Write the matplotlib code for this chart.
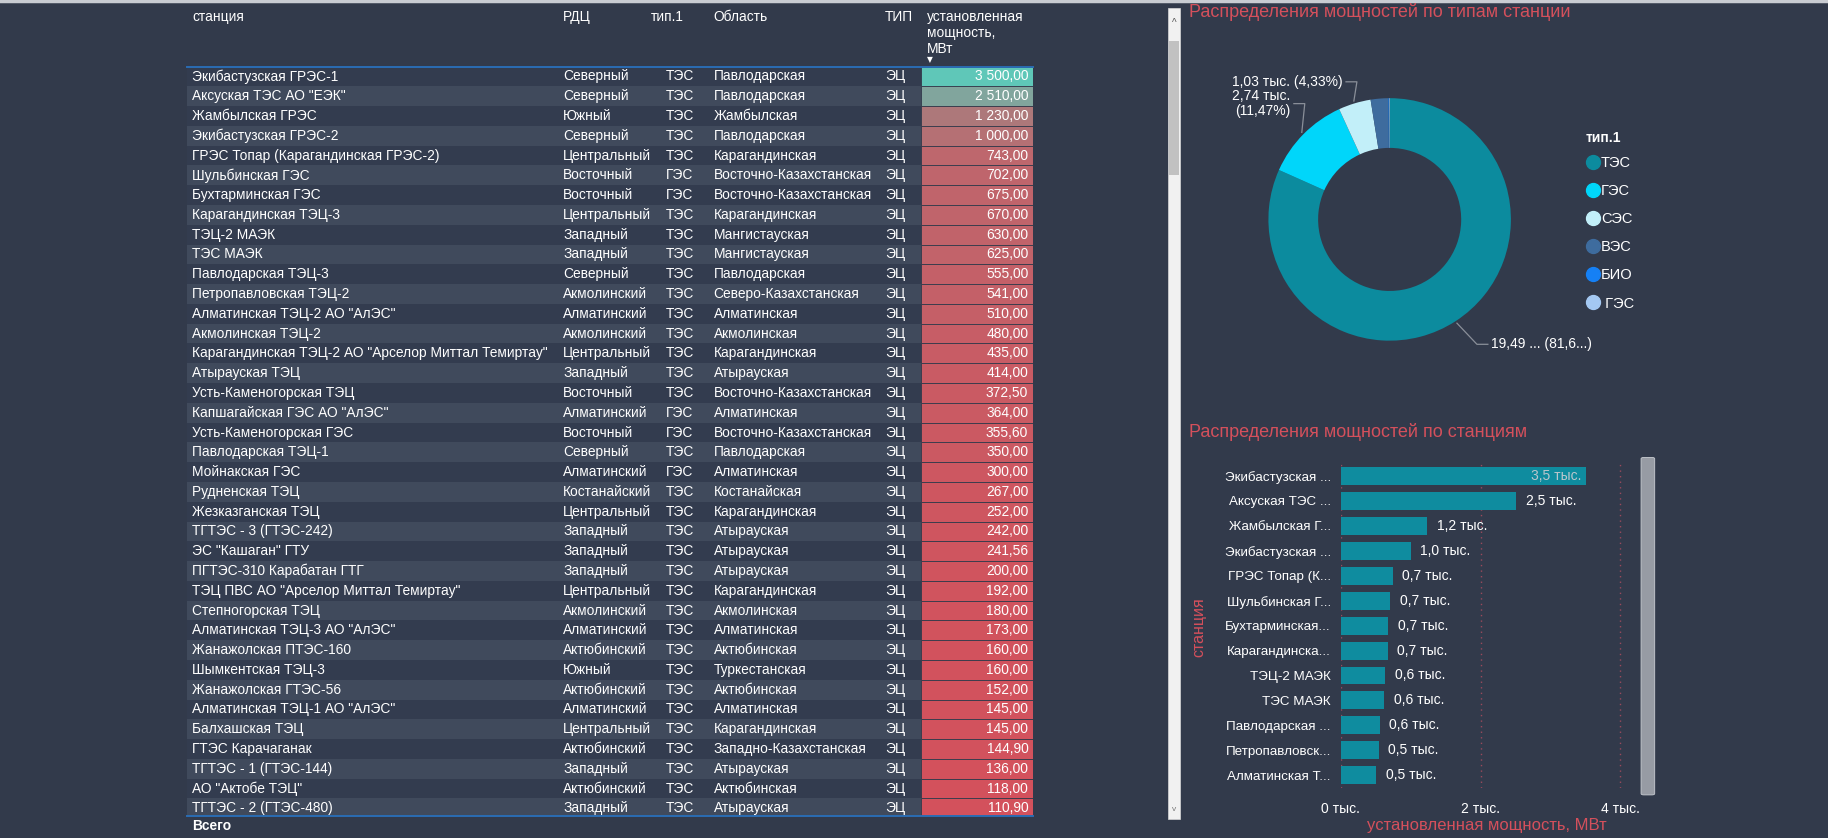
import matplotlib
matplotlib.use("Agg")
import matplotlib.pyplot as plt
from matplotlib import font_manager
from matplotlib.colors import LinearSegmentedColormap, Normalize
from matplotlib.patches import Rectangle, FancyBboxPatch
from matplotlib.lines import Line2D
import numpy as np

# ---- table data ----
stations = [
    "Экибастузская ГРЭС-1", 'Аксуская ТЭС АО "ЕЭК"', "Жамбылская ГРЭС", "Экибастузская ГРЭС-2",
    "ГРЭС Топар (Карагандинская ГРЭС-2)", "Шульбинская ГЭС", "Бухтарминская ГЭС",
    "Карагандинская ТЭЦ-3", "ТЭЦ-2 МАЭК", "ТЭС МАЭК", "Павлодарская ТЭЦ-3",
    "Петропавловская ТЭЦ-2", 'Алматинская ТЭЦ-2 АО "АлЭС"', "Акмолинская ТЭЦ-2",
    'Карагандинская ТЭЦ-2 АО "Арселор Миттал Темиртау"', "Атырауская ТЭЦ",
    "Усть-Каменогорская ТЭЦ", 'Капшагайская ГЭС АО "АлЭС"', "Усть-Каменогорская ГЭС",
    "Павлодарская ТЭЦ-1", "Мойнакская ГЭС", "Рудненская ТЭЦ", "Жезказганская ТЭЦ",
    "ТГТЭС - 3 (ГТЭС-242)", 'ЭС "Кашаган" ГТУ', "ПГТЭС-310 Карабатан ГТГ",
    'ТЭЦ ПВС АО "Арселор Миттал Темиртау"', "Степногорская ТЭЦ",
    'Алматинская ТЭЦ-3 АО "АлЭС"', "Жанажолская ПТЭС-160", "Шымкентская ТЭЦ-3",
    "Жанажолская ГТЭС-56", 'Алматинская ТЭЦ-1 АО "АлЭС"', "Балхашская ТЭЦ",
    "ГТЭС Карачаганак", "ТГТЭС - 1 (ГТЭС-144)", 'АО "Актобе ТЭЦ"', "ТГТЭС - 2 (ГТЭС-480)",
]
rdc = [
    "Северный", "Северный", "Южный", "Северный", "Центральный", "Восточный", "Восточный",
    "Центральный", "Западный", "Западный", "Северный", "Акмолинский", "Алматинский",
    "Акмолинский", "Центральный", "Западный", "Восточный", "Алматинский", "Восточный",
    "Северный", "Алматинский", "Костанайский", "Центральный", "Западный", "Западный",
    "Западный", "Центральный", "Акмолинский", "Алматинский", "Актюбинский", "Южный",
    "Актюбинский", "Алматинский", "Центральный", "Актюбинский", "Западный",
    "Актюбинский", "Западный",
]
plant_type = [
    "ТЭС", "ТЭС", "ТЭС", "ТЭС", "ТЭС", "ГЭС", "ГЭС", "ТЭС", "ТЭС", "ТЭС", "ТЭС", "ТЭС",
    "ТЭС", "ТЭС", "ТЭС", "ТЭС", "ТЭС", "ГЭС", "ГЭС", "ТЭС", "ГЭС", "ТЭС", "ТЭС", "ТЭС",
    "ТЭС", "ТЭС", "ТЭС", "ТЭС", "ТЭС", "ТЭС", "ТЭС", "ТЭС", "ТЭС", "ТЭС", "ТЭС", "ТЭС",
    "ТЭС", "ТЭС",
]
oblast = [
    "Павлодарская", "Павлодарская", "Жамбылская", "Павлодарская", "Карагандинская",
    "Восточно-Казахстанская", "Восточно-Казахстанская", "Карагандинская", "Мангистауская",
    "Мангистауская", "Павлодарская", "Северо-Казахстанская", "Алматинская", "Акмолинская",
    "Карагандинская", "Атырауская", "Восточно-Казахстанская", "Алматинская",
    "Восточно-Казахстанская", "Павлодарская", "Алматинская", "Костанайская",
    "Карагандинская", "Атырауская", "Атырауская", "Атырауская", "Карагандинская",
    "Акмолинская", "Алматинская", "Актюбинская", "Туркестанская", "Актюбинская",
    "Алматинская", "Карагандинская", "Западно-Казахстанская", "Атырауская",
    "Актюбинская", "Атырауская",
]
zone = ["ЭЦ"] * len(stations)
capacity = [
    3500.00, 2510.00, 1230.00, 1000.00, 743.00, 702.00, 675.00, 670.00, 630.00, 625.00,
    555.00, 541.00, 510.00, 480.00, 435.00, 414.00, 372.50, 364.00, 355.60, 350.00,
    300.00, 267.00, 252.00, 242.00, 241.56, 200.00, 192.00, 180.00, 173.00, 160.00,
    160.00, 152.00, 145.00, 145.00, 144.90, 136.00, 118.00, 110.90,
]
headers = ["станция", "РДЦ", "тип.1", "Область", "ТИП", "установленная\nмощность,\nМВт"]

# ---- donut data ----
type_names = ["ТЭС", "ГЭС", "СЭС", "ВЭС", "БИО", " ГЭС"]
type_totals = [19490, 2740, 1030, 560, 20, 20]
type_labels = ["19,49 ... (81,6...)", "2,74 тыс.\n(11,47%)", "1,03 тыс. (4,33%)"]

# ---- bar data (top stations) ----
bar_ticklabels = [
    "Экибастузская ...", "Аксуская ТЭС ...", "Жамбылская Г...", "Экибастузская ...",
    "ГРЭС Топар (К...", "Шульбинская Г...", "Бухтарминская...", "Карагандинска...",
    "ТЭЦ-2 МАЭК", "ТЭС МАЭК", "Павлодарская ...", "Петропавловск...", "Алматинская Т...",
]
bar_values = [v / 1000 for v in capacity[:len(bar_ticklabels)]]
bar_xticks = [0, 2, 4]

# ---- style ----
BG = "#323a4b"
ROW_DARK = "#333c4f"
ROW_LIGHT = "#404a5c"
BLUE = "#2a6cb3"
RED_TXT = "#d4505c"
TEAL = "#0f8c9f"
type_colors = ["#0c8b9e", "#00d6fa", "#c2eff9", "#3e6c9e", "#1580f5", "#a4c8f2"]

names = {f.name for f in font_manager.fontManager.ttflist}
BASE = "Liberation Sans" if "Liberation Sans" in names else "DejaVu Sans"
NARROW = "Liberation Sans Narrow" if "Liberation Sans Narrow" in names else BASE
plt.rcParams["font.family"] = [BASE, "DejaVu Sans"]

W, H = 1568.0, 718.0


def fx(x):
    return x / W


def fy(y):
    return 1 - y / H


def fmt_num(v):
    s = f"{v:,.2f}"
    return s.replace(",", " ").replace(".", ",")


fig = plt.figure(figsize=(18.28, 8.38), dpi=100, facecolor=BG)

# top border line
fig.add_artist(Line2D([0, 1], [0.999, 0.999], color="#c9ccd2", lw=2.5))

# ================= TABLE =================
ROW_H = 16.95
TOP, BOT = 57, 699
n_vis = (BOT - TOP) / ROW_H
ax_t = fig.add_axes([fx(160), fy(BOT), fx(886) - fx(160), fy(TOP) - fy(BOT)])
ax_t.set_xlim(0, 726)
ax_t.set_ylim(n_vis, 0)
ax_t.axis("off")

cmap = LinearSegmentedColormap.from_list("cf", ["#d3515c", "#5fc7b8"])
norm = Normalize(min(capacity), max(capacity))
head_x = [5, 323, 398, 452, 599]
col_x = [5, 323, 411, 452, 599]
tfs = 9.9
for i, v in enumerate(capacity):
    ax_t.add_patch(Rectangle((0, i), 726, 1, fc=ROW_DARK if i % 2 == 0 else ROW_LIGHT, ec="none"))
    ax_t.add_patch(Rectangle((630, i), 96, 1, fc=cmap(norm(v)), ec=BG, lw=0.6))
    row = [stations[i], rdc[i], plant_type[i], oblast[i], zone[i]]
    for x, t in zip(col_x, row):
        ax_t.text(x, i + 0.5, t, color="white", fontsize=tfs, va="center", family=NARROW)
    ax_t.text(722, i + 0.5, fmt_num(v), color="white", fontsize=tfs, va="center", ha="right",
              family=NARROW)

hy = (8.5 - TOP) / ROW_H
for x, t in zip(head_x + [635], headers):
    ax_t.text(x, hy, t, color="white", fontsize=tfs, va="top", ha="left", family=NARROW,
              clip_on=False, linespacing=1.2)
ax_t.text(638, (51 - TOP) / ROW_H, "▼", color="white", fontsize=5.5, va="center", ha="center",
          clip_on=False, family="DejaVu Sans")
ax_t.axhline(0, color=BLUE, lw=1.4, clip_on=False)
ax_t.axhline(n_vis, color=BLUE, lw=1.4, clip_on=False)
ax_t.text(5, (708 - TOP) / ROW_H, "Всего", color="white", fontsize=tfs, fontweight="bold",
          va="center", family=NARROW, clip_on=False)

# table scrollbar
fig.add_artist(Rectangle((fx(1002), fy(702)), fx(10), (702 - 7) / H, fc="#f1f1f1", ec="#d8d8d8",
                         lw=0.5, transform=fig.transFigure))
fig.add_artist(Rectangle((fx(1003), fy(150)), fx(8), (150 - 35) / H, fc="#c1c1c1", ec="none",
                         transform=fig.transFigure))
fig.text(fx(1007), fy(20), "^", color="#555555", fontsize=7, ha="center", va="center")
fig.text(fx(1007), fy(694), "v", color="#777777", fontsize=6, ha="center", va="center")

# ================= DONUT =================
fig.text(fx(1020), fy(10), "Распределения мощностей по типам станции", color=RED_TXT,
         fontsize=13, va="center", ha="left")
CX, CY, R, BOX = 1192, 188, 105, 260
lim = BOX / 2 / R
ax_d = fig.add_axes([fx(CX - BOX / 2), fy(CY + BOX / 2), fx(BOX), BOX / H])
ax_d.set_xlim(-lim, lim)
ax_d.set_ylim(-lim, lim)
ax_d.axis("off")
wedges, _ = ax_d.pie(type_totals, colors=type_colors, startangle=90, counterclock=False,
                     radius=1, wedgeprops=dict(width=0.41, edgecolor="none"))

# data labels with leader lines
label_pos = [(0.84, -1.03, "left"), (-0.82, 0.955, "right"), (-0.39, 1.135, "right")]
for w, txt, (tx, ty, ha) in zip(wedges, type_labels, label_pos):
    mid = np.deg2rad((w.theta1 + w.theta2) / 2)
    ax_ = np.cos(mid) * 1.02
    ay_ = np.sin(mid) * 1.02
    sgn = 1 if ha == "left" else -1
    ex = tx - sgn * 0.12
    ax_d.plot([ax_, ex, tx - sgn * 0.03], [ay_, ty, ty], color="#8a8f99", lw=0.9, clip_on=False)
    ax_d.text(tx, ty, txt, color="white", fontsize=10, ha=ha, va="center", linespacing=1.05,
              clip_on=False)

handles = [Line2D([], [], marker="o", ls="", color=c, markersize=10) for c in type_colors]
leg = fig.legend(handles, type_names, title="тип.1", loc="upper left",
                 bbox_to_anchor=(fx(1360), fy(112)), frameon=False, fontsize=10.5,
                 labelcolor="white", handletextpad=0.05, handlelength=1.0, labelspacing=0.97,
                 borderaxespad=0, borderpad=0)
leg.get_title().set_color("white")
leg.get_title().set_fontweight("bold")
leg.get_title().set_fontsize(10)
leg._legend_box.align = "left"
leg._legend_box.sep = 8

# ================= BARS =================
fig.text(fx(1020), fy(370), "Распределения мощностей по станциям", color=RED_TXT,
         fontsize=13, va="center", ha="left")
ax_b = fig.add_axes([fx(1150), fy(675), fx(1400) - fx(1150), (675 - 397) / H])
ax_b.set_facecolor(BG)
ypos = np.arange(len(bar_values))
ax_b.barh(ypos, bar_values, height=0.72, color=TEAL)
xmax = 250 / 60
ax_b.set_xlim(0, xmax)
ax_b.set_ylim(len(bar_values) - 0.5, -0.5)
for s in ax_b.spines.values():
    s.set_visible(False)
ax_b.set_xticks(bar_xticks)
ax_b.set_xticklabels([f"{t} тыс." for t in bar_xticks])
ax_b.set_yticks(ypos)
ax_b.set_yticklabels(bar_ticklabels)
ax_b.tick_params(length=0, colors="white", labelsize=10)
ax_b.tick_params(axis="y", labelsize=9.6, pad=7)
ax_b.tick_params(axis="x", pad=10)
ax_b.grid(axis="x", color="#9a4a5c", ls=(0, (1, 3)), lw=1)
ax_b.set_axisbelow(True)
ax_b.set_xlabel("установленная мощность, МВт", color=RED_TXT, fontsize=12, labelpad=2)
for y, v in zip(ypos, bar_values):
    lab = f"{v:.1f}".replace(".", ",") + " тыс."
    if v + 0.95 > xmax:
        ax_b.text(v - 0.06, y, lab, color="#b9c6cc", fontsize=10, ha="right", va="center")
    else:
        ax_b.text(v + 0.14, y, lab, color="white", fontsize=10, ha="left", va="center")
fig.text(fx(1028), fy(537), "станция", color=RED_TXT, fontsize=11.5, rotation=90,
         ha="center", va="center")

# bar chart scrollbar
fig.add_artist(FancyBboxPatch((fx(1410), fy(680)), fx(7), (680 - 393) / H,
                              boxstyle="round,pad=0.0015", fc="#979ba4", ec="#c9ccd2", lw=0.6,
                              transform=fig.transFigure))

fig.savefig("out.png", dpi=100, facecolor=BG)
